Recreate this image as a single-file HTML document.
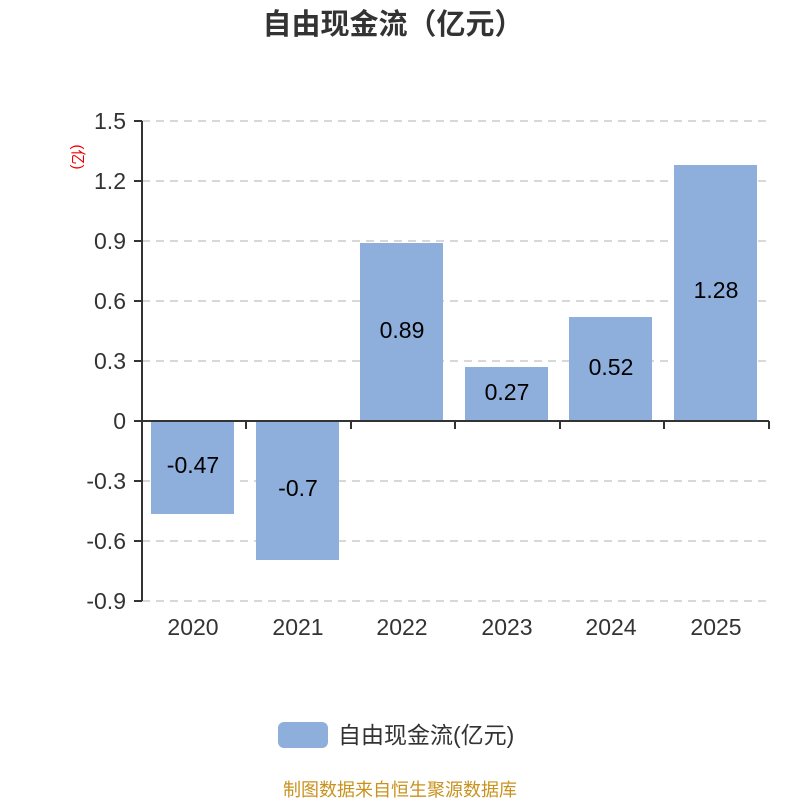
<!DOCTYPE html>
<html><head><meta charset="utf-8"><style>html,body{margin:0;padding:0;background:#fff}</style></head>
<body>
<svg width="800" height="800" xmlns="http://www.w3.org/2000/svg" font-family="'Liberation Sans','Noto Sans CJK SC',sans-serif">
<rect width="800" height="800" fill="#fff"/>
<text x="393" y="34" text-anchor="middle" font-size="29" font-weight="bold" fill="#333">自由现金流（亿元）</text>
<g stroke="#ccc" stroke-width="1.5" stroke-dasharray="8,6">
<line x1="142" y1="121" x2="769" y2="121"/>
<line x1="142" y1="181" x2="769" y2="181"/>
<line x1="142" y1="241" x2="769" y2="241"/>
<line x1="142" y1="301" x2="769" y2="301"/>
<line x1="142" y1="361" x2="769" y2="361"/>
<line x1="142" y1="481" x2="769" y2="481"/>
<line x1="142" y1="541" x2="769" y2="541"/>
<line x1="142" y1="601" x2="769" y2="601"/>
</g>
<g fill="#8eaedb">
<rect x="151" y="421" width="83" height="93"/>
<rect x="256" y="421" width="83" height="139"/>
<rect x="360" y="243" width="83" height="178"/>
<rect x="465" y="367" width="83" height="54"/>
<rect x="569" y="317" width="83" height="104"/>
<rect x="674" y="165" width="83" height="256"/>
</g>
<g stroke="#333" stroke-width="2" fill="none">
<line x1="142" y1="121" x2="142" y2="601"/>
<line x1="134" y1="121" x2="142" y2="121"/>
<line x1="134" y1="181" x2="142" y2="181"/>
<line x1="134" y1="241" x2="142" y2="241"/>
<line x1="134" y1="301" x2="142" y2="301"/>
<line x1="134" y1="361" x2="142" y2="361"/>
<line x1="134" y1="421" x2="142" y2="421"/>
<line x1="134" y1="481" x2="142" y2="481"/>
<line x1="134" y1="541" x2="142" y2="541"/>
<line x1="134" y1="601" x2="142" y2="601"/>
<line x1="142" y1="421" x2="769" y2="421"/>
<line x1="246" y1="421" x2="246" y2="429"/>
<line x1="351" y1="421" x2="351" y2="429"/>
<line x1="455" y1="421" x2="455" y2="429"/>
<line x1="560" y1="421" x2="560" y2="429"/>
<line x1="664" y1="421" x2="664" y2="429"/>
<line x1="769" y1="421" x2="769" y2="429"/>
</g>
<g font-size="23" fill="#333" text-anchor="end">
<text x="126" y="129">1.5</text>
<text x="126" y="189">1.2</text>
<text x="126" y="249">0.9</text>
<text x="126" y="309">0.6</text>
<text x="126" y="369">0.3</text>
<text x="126" y="429">0</text>
<text x="126" y="489">-0.3</text>
<text x="126" y="549">-0.6</text>
<text x="126" y="609">-0.9</text>
</g>
<g font-size="23" fill="#333" text-anchor="middle">
<text x="193" y="635">2020</text>
<text x="298" y="635">2021</text>
<text x="402" y="635">2022</text>
<text x="507" y="635">2023</text>
<text x="611" y="635">2024</text>
<text x="716" y="635">2025</text>
</g>
<g font-size="23" fill="#000" text-anchor="middle">
<text x="193" y="473">-0.47</text>
<text x="298" y="496">-0.7</text>
<text x="402" y="338">0.89</text>
<text x="507" y="400">0.27</text>
<text x="611" y="375">0.52</text>
<text x="716" y="298">1.28</text>
</g>
<text transform="translate(73,157) rotate(90)" text-anchor="middle" font-size="15" fill="#e00">(亿)</text>
<rect x="278" y="722" width="50" height="26" rx="6" fill="#8eaedb"/>
<text x="338" y="743" font-size="23" fill="#333">自由现金流(亿元)</text>
<text x="400" y="796" text-anchor="middle" font-size="18" fill="#c8921e">制图数据来自恒生聚源数据库</text>
</svg>
</body></html>
